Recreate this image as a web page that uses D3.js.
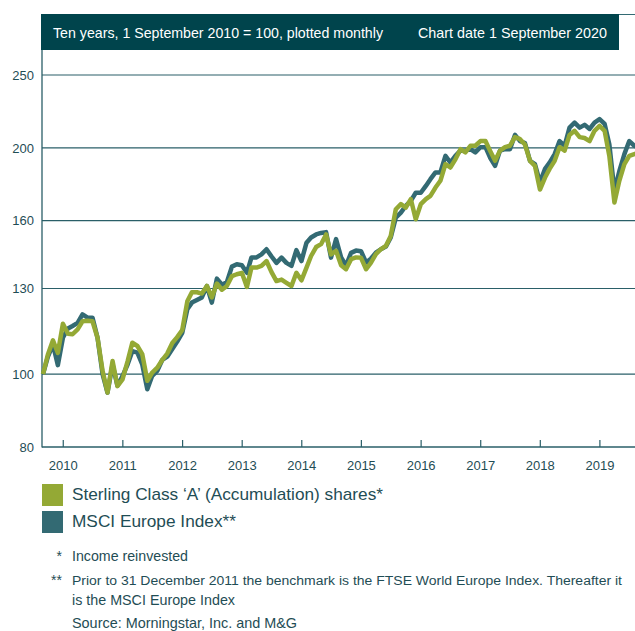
<!DOCTYPE html>
<html>
<head>
<meta charset="utf-8">
<script src="https://cdn.jsdelivr.net/npm/d3@7"></script>
<style>
  html, body { margin: 0; padding: 0; background: #fff; }
  svg { display: block; }
  .narrow { font-family: "Liberation Sans Narrow", "Arial Narrow", "Liberation Sans", Arial, sans-serif; }
  .reg { font-family: "Liberation Sans", Arial, sans-serif; }
</style>
</head>
<body>
<div id="chart"></div>
<script>
// Ten-year performance, 1 Sep 2010 = 100, monthly points Sep 2010 .. Sep 2020.

const startMonth = new Date(2010, 8, 1);
const endMonth = new Date(2020, 8, 1);

const fundValues = [
  100, 106.2, 110.9, 106.7, 116.7, 113.2, 113, 114.7, 117.6, 117.8, 117.6, 111.8,
  101, 94.5, 104.1, 96.4, 98.4, 104, 110.1, 109, 106.3, 98, 100.5, 102,
  104.5, 106.5, 110, 112, 114.5, 125, 128.5, 128.5, 128, 131, 126.5, 132,
  129.5, 131, 135, 135.8, 136.4, 130.6, 138.6, 138.6, 139.3, 141.4, 136.8, 133,
  133.6, 132.3, 131, 136.4, 133.3, 138.6, 143.6, 147.6, 148.9, 153.4, 144.3, 145.9,
  139.6, 137.9, 142.2, 143, 142.8, 137.9, 140.6, 144.4, 146.6, 148.1, 152.7, 165.7,
  168.3, 166.5, 170.9, 160.7, 168.3, 170.9, 172.6, 177.1, 180.8, 190.3, 188.3, 193.1,
  199.2, 197.2, 201.3, 201.3, 204.2, 204.2, 198.3, 192.2, 198.3, 200.4, 201.3, 206.7,
  205.4, 202, 192.2, 189.3, 176, 182.6, 187.5, 192.2, 200.4, 198.3, 208.1, 210.7,
  206.7, 206.1, 204.2, 210.7, 213.9, 210.7, 195, 169.2, 180.8, 190.3, 195.2, 196.2,
  197
];

const indexValues = [
  100, 105.5, 109.5, 102.8, 111.8, 115, 115.9, 117, 120.1, 118.9, 118.9, 111.8,
  100, 94.5, 103, 96.5, 99.4, 103, 107.3, 106.8, 103, 95.5, 99.5, 101,
  104.5, 105.5, 108, 110.5, 113.5, 122, 124.5, 125.5, 126.5, 131, 124.5, 134,
  131.5, 132.5, 139, 140, 139.6, 136.4, 143, 143, 144.3, 146.6, 143.5, 140.6,
  142.9, 140.6, 139.3, 146.2, 141.4, 149.6, 152, 153.4, 154.1, 154.5, 142.9, 151.2,
  143, 139.5, 145, 146, 145.7, 140.8, 142.4, 145.1, 146.6, 147.8, 152, 161.5,
  164, 167.4, 170, 174.3, 174.3, 178, 181.7, 185.5, 185.5, 195.2, 191.2, 195.2,
  198.3, 198.3, 199.2, 197.2, 200.4, 200.4, 194.2, 189.3, 198.3, 199.2, 199.2, 208.1,
  204.2, 203, 192.2, 190.3, 180, 187.5, 191.2, 196.2, 204.2, 201.3, 212.8, 216.1,
  212.8, 214.6, 211.9, 216.1, 218.4, 215.2, 202, 175.3, 186.2, 196.2, 204.2, 201.3,
  200
];

const yTicks = [80, 100, 130, 160, 200, 250];
const yearLabels = [2010, 2011, 2012, 2013, 2014, 2015, 2016, 2017, 2018, 2019];

const seriesNames = ["Sterling Class \u2018A\u2019 (Accumulation) shares*", "MSCI Europe Index**"];
const headerLeft = "Ten years, 1 September 2010 = 100, plotted monthly";
const headerRight = "Chart date 1 September 2020";
const notes = [
  { mark: "*", text: "Income reinvested" },
  { mark: "**", text: "Prior to 31 December 2011 the benchmark is the FTSE World Europe Index. Thereafter it" },
  { mark: "", text: "is the MSCI Europe Index" },
  { mark: "", text: "Source: Morningstar, Inc. and M&G" }
];

const W = 635, H = 631;
const GREEN = "#94a935", TEAL = "#336a73", DARK = "#00444c", INK = "#1f4d55";

const months = d3.timeMonth.range(startMonth, d3.timeMonth.offset(endMonth, 1));

const svg = d3.select("#chart").append("svg").attr("width", W).attr("height", H);

const x = d3.scaleTime().domain([startMonth, endMonth]).range([43, 639.4]);
const y = d3.scaleLog().domain([80, 250]).range([447, 75]);

// header band + frame line
svg.append("line").attr("x1", 41).attr("x2", W).attr("y1", 14.5).attr("y2", 14.5)
  .attr("stroke", TEAL).attr("stroke-width", 1);
svg.append("rect").attr("x", 41).attr("y", 14).attr("width", 578).attr("height", 36).attr("fill", DARK);
svg.append("text").attr("class", "narrow").attr("x", 53).attr("y", 37.5)
  .attr("fill", "#fff").style("font-size", "15px")
  .attr("textLength", 330).attr("lengthAdjust", "spacingAndGlyphs").text(headerLeft);
svg.append("text").attr("class", "narrow").attr("x", 418).attr("y", 37.5)
  .attr("fill", "#fff").style("font-size", "15px")
  .attr("textLength", 189).attr("lengthAdjust", "spacingAndGlyphs").text(headerRight);

// gridlines + y labels
const gy = svg.append("g");
gy.selectAll("line").data(yTicks.filter(d => d !== 80)).join("line")
  .attr("x1", 42).attr("x2", W).attr("y1", d => y(d)).attr("y2", d => y(d))
  .attr("stroke", "#2a5f68").attr("stroke-width", 1.2);
gy.selectAll("text").data(yTicks).join("text")
  .attr("class", "reg").attr("x", 34).attr("y", d => y(d)).attr("dy", "0.36em")
  .attr("text-anchor", "end").attr("fill", INK).style("font-size", "13px").text(d => d);

// axes lines
svg.append("line").attr("x1", 42).attr("x2", 42).attr("y1", 50).attr("y2", 447.5)
  .attr("stroke", "#2a5f68").attr("stroke-width", 1.3);
const xAxis = d3.axisBottom(x)
  .tickValues(yearLabels.map(yr => new Date(yr, 11, 31)))
  .tickFormat(d => d.getFullYear())
  .tickSizeInner(-7).tickSizeOuter(0).tickPadding(14);
const gx = svg.append("g").attr("transform", "translate(0,447)").call(xAxis);
gx.select(".domain").attr("d", `M42,0H${W}`).attr("stroke", "#2a5f68").attr("stroke-width", 1.3);
gx.selectAll(".tick line").attr("stroke", "#2a5f68").attr("stroke-width", 1.2);
gx.selectAll(".tick text").attr("class", "reg").attr("fill", INK).style("font-size", "13px");

// series
const line = d3.line().x((d, i) => x(months[i])).y(d => y(d));
svg.append("path").datum(indexValues).attr("d", line).attr("fill", "none")
  .attr("stroke", TEAL).attr("stroke-width", 4.5).attr("stroke-linejoin", "round");
svg.append("path").datum(fundValues).attr("d", line).attr("fill", "none")
  .attr("stroke", GREEN).attr("stroke-width", 4.5).attr("stroke-linejoin", "round");

// legend
const legend = [
  { name: seriesNames[0], color: GREEN, len: 311 },
  { name: seriesNames[1], color: TEAL, len: 164 }
];
const lg = svg.append("g").selectAll("g").data(legend).join("g")
  .attr("transform", (d, i) => `translate(42,${484 + i * 27})`);
lg.append("rect").attr("width", 21).attr("height", 22).attr("fill", d => d.color);
lg.append("text").attr("class", "narrow").attr("x", 30).attr("y", 16)
  .attr("fill", INK).style("font-size", "17px")
  .attr("textLength", d => d.len).attr("lengthAdjust", "spacingAndGlyphs").text(d => d.name);

// footnotes
const noteY = [562, 586, 606, 629];
const noteLen = [116, 550, 163, 225];
const noteSize = [14.5, 12.5, 14.5, 14.5];
const ng = svg.append("g").selectAll("g").data(notes).join("g");
ng.append("text").attr("class", "narrow").attr("x", 62).attr("y", (d, i) => noteY[i] - 1)
  .attr("text-anchor", "end").attr("fill", INK).style("font-size", "14px").text(d => d.mark);
ng.append("text").attr("class", "narrow").attr("x", 72).attr("y", (d, i) => noteY[i] - 1)
  .attr("fill", INK).style("font-size", (d, i) => noteSize[i] + "px")
  .attr("textLength", (d, i) => noteLen[i]).attr("lengthAdjust", "spacingAndGlyphs").text(d => d.text);
</script>
</body>
</html>
